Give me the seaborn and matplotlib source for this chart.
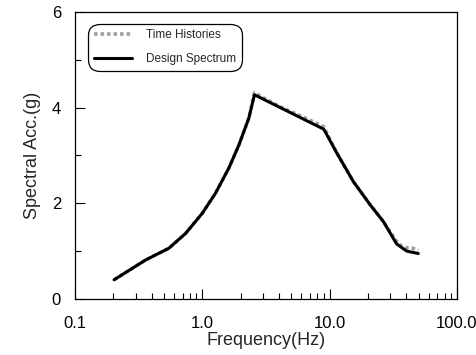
import matplotlib
matplotlib.use("Agg")
import matplotlib.pyplot as plt
import matplotlib.ticker as mticker
import seaborn as sns
import pandas as pd

freq_design = [0.203, 0.36, 0.547, 0.74, 1.0, 1.27, 1.62, 1.94, 2.32, 2.57,
               9.0, 11.4, 15.4, 20.8, 26.4, 33.6, 40.3, 49.7]
acc_design = [0.40, 0.816, 1.06, 1.37, 1.79, 2.21, 2.74, 3.22, 3.78, 4.27,
              3.55, 3.05, 2.45, 1.97, 1.62, 1.15, 1.00, 0.95]

freq_th = [0.203, 0.36, 0.547, 0.74, 1.0, 1.27, 1.62, 1.94, 2.32, 2.57, 4.0, 6.0,
           9.0, 11.4, 15.4, 20.8, 26.4, 33.6, 37.0, 40.3, 45.0, 49.7]
acc_th = [0.40, 0.816, 1.06, 1.37, 1.79, 2.21, 2.74, 3.22, 3.78, 4.31, 4.03, 3.82,
          3.60, 3.05, 2.45, 1.97, 1.62, 1.20, 1.10, 1.07, 1.06, 1.02]

xticks = [0.1, 1.0, 10.0, 100.0]
xticklabels = ["0.1", "1.0", "10.0", "100.0"]
yticks = [0, 2, 4, 6]

sns.set_style("ticks")
plt.rcParams["font.family"] = ["Liberation Sans", "DejaVu Sans"]

fig = plt.figure(figsize=(4.77, 3.55), dpi=100)
ax = fig.add_axes([0.157, 0.158, 0.801, 0.808])

df_th = pd.DataFrame({"f": freq_th, "a": acc_th})
df_ds = pd.DataFrame({"f": freq_design, "a": acc_design})

sns.lineplot(data=df_th, x="f", y="a", ax=ax, color="#a0a0a0", lw=2.6,
             linestyle=(0, (1, 0.8)), label="Time Histories", estimator=None, sort=False)
sns.lineplot(data=df_ds, x="f", y="a", ax=ax, color="black", lw=2.2,
             label="Design Spectrum", estimator=None, sort=False)

ax.set_xscale("log")
ax.set_xlim(0.1, 100)
ax.set_ylim(0, 6)
ax.set_xticks(xticks)
ax.set_xticklabels(xticklabels)
ax.xaxis.set_minor_locator(mticker.LogLocator(base=10, subs=range(2, 10)))
ax.xaxis.set_minor_formatter(mticker.NullFormatter())
ax.set_yticks(yticks)
ax.yaxis.set_minor_locator(mticker.MultipleLocator(1))
ax.tick_params(which="both", direction="in", labelsize=12, colors="black")
ax.tick_params(which="major", length=7, width=0.8)
ax.tick_params(axis="x", which="major", pad=12)
ax.tick_params(axis="y", which="major", pad=10)
ax.tick_params(which="minor", length=4, width=0.8)
for s in ax.spines.values():
    s.set_linewidth(0.9)
    s.set_color("black")

ax.set_xlabel("Frequency(Hz)", fontsize=13, labelpad=1)
ax.set_ylabel("Spectral Acc.(g)", fontsize=13, labelpad=8)

leg = ax.legend(loc="upper left", bbox_to_anchor=(0.035, 0.96), fontsize=8.5,
                frameon=True, fancybox=True, edgecolor="black", framealpha=1,
                handlelength=3.2, handletextpad=1.2, labelspacing=1.0,
                borderpad=0.5, borderaxespad=0)
leg.get_frame().set_linewidth(0.9)
leg.get_frame().set_boxstyle("round,pad=0,rounding_size=1.0")

fig.savefig("out.png", dpi=100)
